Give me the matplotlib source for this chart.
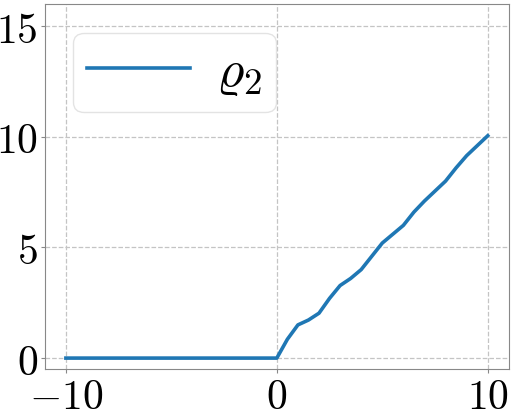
import numpy as np
import matplotlib
matplotlib.use("Agg")
import matplotlib.pyplot as plt

plt.rcParams['mathtext.fontset'] = 'cm'
plt.rcParams['font.family'] = 'serif'
plt.rcParams['font.serif'] = ['DejaVu Serif']

# data
x_vals = [-10, 0, 0.5, 1, 1.5, 2, 2.5, 3, 3.5, 4, 4.5, 5, 5.5, 6, 6.5, 7, 7.5, 8, 8.5, 9, 9.5, 10]
y_vals = [0, 0, 0.85, 1.5, 1.72, 2.03, 2.7, 3.28, 3.6, 4.0, 4.6, 5.2, 5.6, 6.0, 6.6, 7.1, 7.55, 8.0, 8.6, 9.15, 9.6, 10.05]
x_ticks = [-10, 0, 10]
y_ticks = [0, 5, 10, 15]

fig, ax = plt.subplots(figsize=(5.15, 4.12), dpi=100)
ax.plot(x_vals, y_vals, color='#1f77b4', lw=2.6, label=r'$\varrho_2$')

ax.set_xlim(-11, 11)
ax.set_ylim(-0.5, 16)
ax.set_xticks(x_ticks)
ax.set_yticks(y_ticks)
ax.set_xticklabels([r'$%d$' % t for t in x_ticks], fontsize=30)
ax.set_yticklabels([r'$%d$' % t for t in y_ticks], fontsize=30)
ax.tick_params(length=3, color='#888888', pad=2)
for s in ax.spines.values():
    s.set_color('#888888')

ax.grid(True, ls='--', color='#c4c4c4', lw=0.9)
ax.legend(loc='upper left', fontsize=38, handlelength=1.95, handletextpad=0.5,
          borderpad=0.26, borderaxespad=0.54, fancybox=True,
          edgecolor='#dddddd')

fig.subplots_adjust(left=0.087, right=0.988, top=0.99, bottom=0.104)
fig.savefig('out.png')
